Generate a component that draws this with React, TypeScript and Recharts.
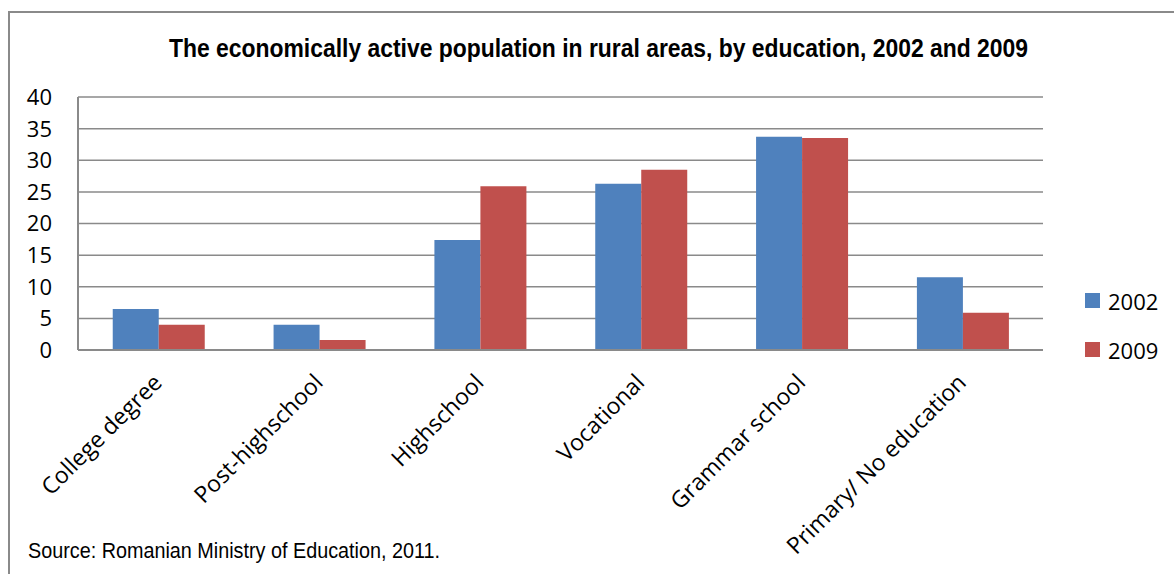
import React from "react"
import { BarChart, Bar, XAxis, YAxis, CartesianGrid } from "recharts"

const categories = [
  "College degree",
  "Post-highschool",
  "Highschool",
  "Vocational",
  "Grammar school",
  "Primary/ No education"
]
const values2002 = [6.5, 4, 17.4, 26.3, 33.7, 11.5]
const values2009 = [4, 1.6, 25.9, 28.5, 33.5, 5.9]
const yTicks = [0, 5, 10, 15, 20, 25, 30, 35, 40]

const data = categories.map((name, i) => ({
  name,
  y2002: values2002[i],
  y2009: values2009[i]
}))

const BLUE = "#4F81BD"
const RED = "#C0504D"
const GRID = "#8a8a8a"
const FONT = "'Open Sans', sans-serif"
const NARROW = "'Liberation Sans', Arial, sans-serif"

const series = [
  { key: "y2002", name: "2002", color: BLUE },
  { key: "y2009", name: "2009", color: RED }
]

const YTick = (props: any) => {
  const { y, payload } = props
  return (
    <text x={52} y={y} dy="0.36em" textAnchor="end" fontFamily={FONT} fontSize={22} fill="#000">
      {payload.value}
    </text>
  )
}

const XTick = (props: any) => {
  const { x, y, payload } = props
  return (
    <g transform={`translate(${x + 5},${y + 34})`}>
      <text transform="rotate(-45)" textAnchor="end" fontFamily={FONT} fontSize={23} fill="#000">
        {payload.value}
      </text>
    </g>
  )
}

export default function App() {
  return (
    <div style={{ position: "absolute", left: 0, top: 0, width: 1174, height: 574, background: "#fff" }}>
      <svg width={1174} height={574} style={{ position: "absolute", left: 0, top: 0 }}>
        <line x1={8} y1={12} x2={1174} y2={12} stroke={GRID} strokeWidth={2} />
        <line x1={9} y1={12} x2={9} y2={574} stroke={GRID} strokeWidth={2} />
        <text
          x={169}
          y={57}
          textLength={859}
          lengthAdjust="spacingAndGlyphs"
          fontFamily={NARROW}
          fontWeight="bold"
          fontSize={26}
          fill="#000"
        >
          The economically active population in rural areas, by education, 2002 and 2009
        </text>
        <text
          x={28}
          y={558}
          textLength={412}
          lengthAdjust="spacingAndGlyphs"
          fontFamily={NARROW}
          fontSize={22}
          fill="#000"
        >
          Source: Romanian Ministry of Education, 2011.
        </text>
      </svg>
      <div style={{ position: "absolute", left: 0, top: 0 }}>
        <BarChart
          width={1174}
          height={574}
          data={data}
          margin={{ top: 97, right: 131, bottom: 194, left: 0 }}
          barCategoryGap="21.6%"
          barGap={0}
        >
          <CartesianGrid vertical={false} stroke={GRID} strokeWidth={1.5} />
          <XAxis
            dataKey="name"
            height={30}
            interval={0}
            tick={<XTick />}
            tickLine={false}
            tickSize={0}
            tickMargin={0}
            axisLine={{ stroke: GRID, strokeWidth: 2 }}
          />
          <YAxis
            width={78}
            domain={[0, 40]}
            ticks={yTicks}
            interval={0}
            tick={<YTick />}
            tickLine={false}
            axisLine={{ stroke: GRID, strokeWidth: 2 }}
          />
          {series.map((s) => (
            <Bar key={s.key} dataKey={s.key} name={s.name} fill={s.color} isAnimationActive={false} />
          ))}
        </BarChart>
      </div>
      <div style={{ position: "absolute", left: 1085, top: 276 }}>
        {series.map((s) => (
          <div key={s.key} style={{ display: "flex", alignItems: "center", height: 49 }}>
            <span style={{ width: 15, height: 15, background: s.color, display: "inline-block", marginRight: 8 }} />
            <span style={{ fontFamily: FONT, fontSize: 22, color: "#000" }}>{s.name}</span>
          </div>
        ))}
      </div>
    </div>
  )
}
